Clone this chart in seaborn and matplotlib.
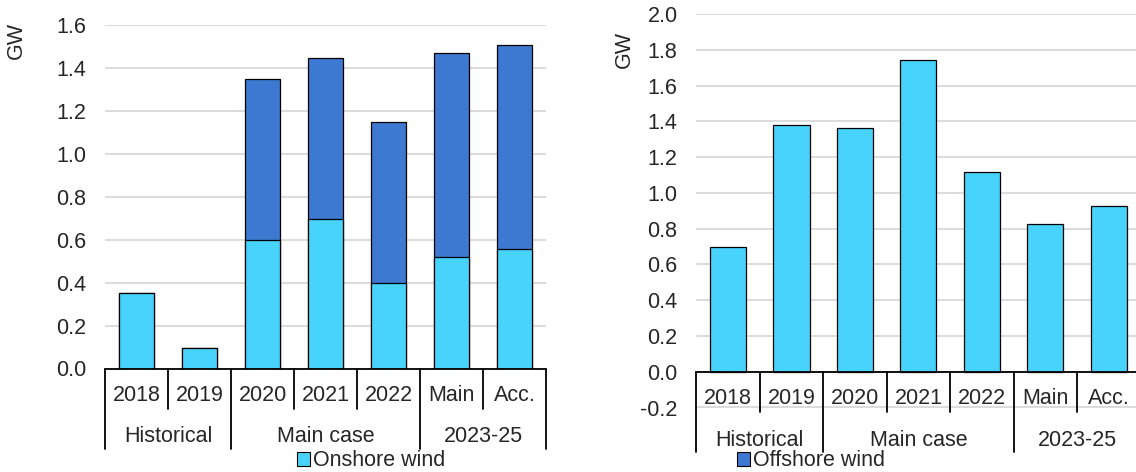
import matplotlib
matplotlib.use("Agg")
import matplotlib.pyplot as plt
from matplotlib.patches import Patch
import seaborn as sns

# categories and groups (shared by both panels)
categories = ["2018", "2019", "2020", "2021", "2022", "Main", "Acc."]
groups = ["Historical", "Main case", "2023-25"]
group_spans = [(0, 1), (2, 4), (5, 6)]

# left panel: onshore + offshore stacked
left_onshore = [0.35, 0.095, 0.60, 0.695, 0.40, 0.52, 0.555]
left_offshore = [0.0, 0.0, 0.75, 0.75, 0.75, 0.95, 0.95]

# right panel
right_values = [0.695, 1.38, 1.365, 1.745, 1.115, 0.825, 0.925]

LIGHT = "#48D3FD"
DARK = "#3D79D1"
GRID = "#D9D9D9"
FS = 15.5

sns.set_theme(style="white")
plt.rcParams["font.family"] = ["Liberation Sans", "DejaVu Sans"]

W, H = 1136, 472
fig = plt.figure(figsize=(W / 100, H / 100), dpi=100)


def px_axes(left, right, top, bottom):
    return fig.add_axes([left / W, 1 - bottom / H, (right - left) / W, (bottom - top) / H])


def category_axis(ax, ylo, yhi, ax_h_px):
    y0 = (0 - ylo) / (yhi - ylo)
    off = lambda px: y0 - px / ax_h_px
    tr = ax.get_xaxis_transform()
    ax.plot([-0.5, 6.5], [y0, y0], color="black", lw=1.3, transform=tr, clip_on=False, zorder=5)
    long_sep = [s - 0.5 for s, _ in group_spans] + [6.5]
    short_sep = [x + 0.5 for s, e in group_spans for x in range(s, e)]
    for x in long_sep:
        ax.plot([x, x], [y0, off(80)], color="black", lw=1.3, transform=tr, clip_on=False)
    for x in short_sep:
        ax.plot([x, x], [y0, off(40)], color="black", lw=1.3, transform=tr, clip_on=False)
    for i, c in enumerate(categories):
        ax.text(i, off(27), c, ha="center", va="center", fontsize=FS, transform=tr)
    for g, (s, e) in zip(groups, group_spans):
        ax.text((s + e) / 2, off(68.5), g, ha="center", va="center", fontsize=FS, transform=tr)


def style(ax, ylo, yhi, step):
    ax.set_ylim(ylo, yhi)
    ax.set_xlim(-0.5, 6.5)
    ticks = [round(ylo + k * step, 1) for k in range(int(round((yhi - ylo) / step)) + 1)]
    ax.set_yticks(ticks)
    ax.set_yticklabels([f"{t:.1f}" for t in ticks], fontsize=FS)
    ax.tick_params(axis="y", length=0, pad=13.5)
    ax.set_xticks([])
    ax.set_xlabel("")
    ax.yaxis.grid(True, color=GRID, lw=1.3)
    ax.set_axisbelow(True)
    for s in ax.spines.values():
        s.set_visible(False)


# ---- left panel ----
ax1 = px_axes(105, 546, 25, 368.5)
totals = [a + b for a, b in zip(left_onshore, left_offshore)]
sns.barplot(x=categories, y=totals, order=categories, color=DARK, saturation=1,
            width=0.57, edgecolor="black", linewidth=0.9, ax=ax1)
sns.barplot(x=categories, y=left_onshore, order=categories, color=LIGHT, saturation=1,
            width=0.57, edgecolor="black", linewidth=0.9, ax=ax1)
style(ax1, 0.0, 1.6, 0.2)
category_axis(ax1, 0.0, 1.6, 343.5)
ax1.set_ylabel("GW", fontsize=FS, va="center")
ax1.yaxis.set_label_coords(-0.2, 0.956)

# ---- right panel ----
ax2 = px_axes(696.3, 1140.5, 14, 407.5)
sns.barplot(x=categories, y=right_values, order=categories, color=LIGHT, saturation=1,
            width=0.57, edgecolor="black", linewidth=0.9, ax=ax2)
style(ax2, -0.2, 2.0, 0.2)
category_axis(ax2, -0.2, 2.0, 393.5)
ax2.set_ylabel("GW", fontsize=FS, va="center")
ax2.yaxis.set_label_coords(-0.163, 0.909)

# legends
for label, color, cx in [("Onshore wind", LIGHT, 371), ("Offshore wind", DARK, 811)]:
    fig.legend(handles=[Patch(facecolor=color, edgecolor="black", lw=0.8)], labels=[label],
               loc="center", bbox_to_anchor=(cx / W, 1 - 461 / H), frameon=False,
               fontsize=FS, handlelength=0.6, handleheight=0.6, handletextpad=0.15,
               borderpad=0, borderaxespad=0)

fig.savefig("out.png", dpi=100)
